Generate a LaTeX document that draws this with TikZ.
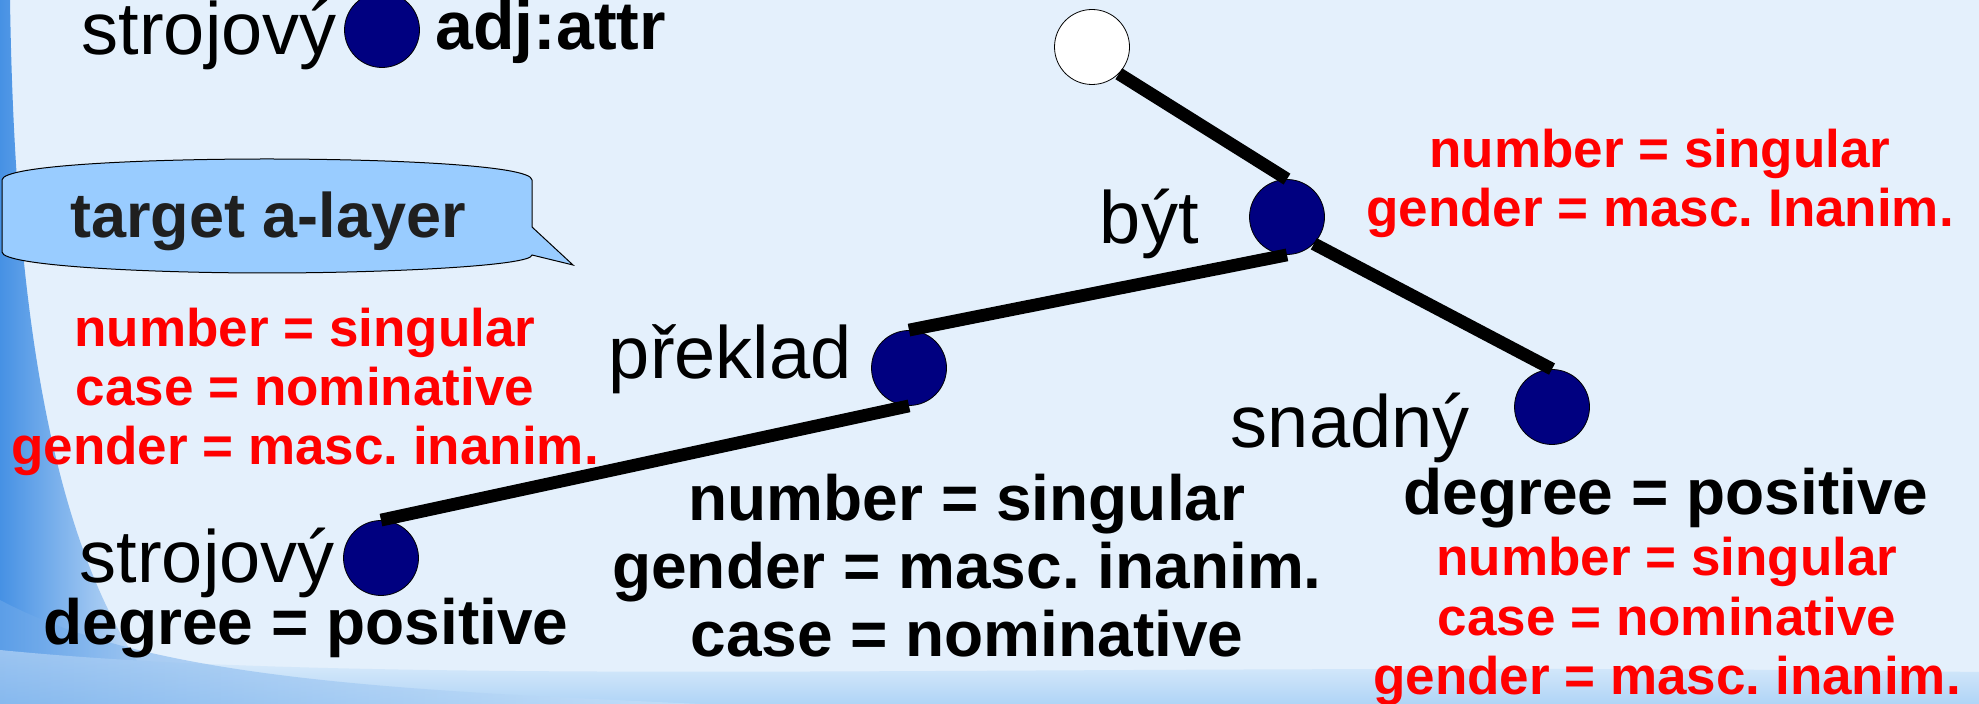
\documentclass[tikz,border=0pt]{standalone}
\usepackage{fontspec}
\setmainfont{Liberation Sans}
\usetikzlibrary{positioning}
\definecolor{bgblue}{RGB}{228,240,252}
\definecolor{edgeblue}{RGB}{70,145,228}
\definecolor{swoosh}{RGB}{175,212,246}
\definecolor{navydot}{RGB}{0,0,128}
\definecolor{calloutfill}{RGB}{153,204,255}
\frenchspacing

\begin{document}
\begin{tikzpicture}[x=0.5pt, y=-0.5pt,
    tnode/.style={circle, draw=black, line width=0.4pt, fill=navydot, minimum size=37.5pt, inner sep=0pt},
    rootnode/.style={tnode, fill=white},
    word/.style={font=\fontsize{37}{40}\selectfont, inner sep=0pt, anchor=base east},
    attr/.style={font=\bfseries\fontsize{32}{34}\selectfont, align=center, inner sep=0pt, anchor=base},
    attrred/.style={font=\bfseries\fontsize{26.5}{29.5}\selectfont, text=red, align=center, inner sep=0pt, anchor=base},
    edge/.style={line width=6.4pt}
  ]
    % background
    \fill[bgblue] (0,0) rectangle (1979,704);
    \useasboundingbox (0,0) rectangle (1979,704);
    \shade[left color=edgeblue, right color=bgblue] (0,0) -- (10,0) .. controls (14,260) and (40,560) .. (170,704) -- (0,704) -- cycle;
    \shade[top color=bgblue, bottom color=swoosh] (0,650) .. controls (400,690) and (1100,660) .. (1979,672) -- (1979,704) -- (0,704) -- cycle;
    \shade[left color=edgeblue!80, right color=swoosh!40!bgblue, opacity=0.6] (0,600) .. controls (150,680) and (400,690) .. (700,704) -- (0,704) -- cycle;

    % callout
    \draw[fill=calloutfill, line width=0.5pt] (2,180) .. controls (2,165) and (150,159) .. (267,159)
      .. controls (384,159) and (532,165) .. (532,180) -- (532,227) -- (573,265) -- (532,255)
      .. controls (532,266) and (384,273) .. (267,273) .. controls (150,273) and (2,266) .. (2,252) -- cycle;
    \node[font=\bfseries\fontsize{31.5}{34}\selectfont, text=black!88, inner sep=0pt, anchor=base] (layer) at (268,238) {target a-layer};

    % legend
    \node[tnode] (adj) at (382,30) {};
    \node[word] (adjword) at (337,55) {strojový};
    \node[font=\bfseries\fontsize{34}{36}\selectfont, inner sep=0pt, anchor=base west] (adjfun) at (435,50) {adj:attr};

    % tree
    \node[rootnode] (root) at (1092,47) {};
    \node[tnode] (byt) at (1287,217) {};
    \node[tnode] (preklad) at (909,368) {};
    \node[tnode] (snadny) at (1552,407) {};
    \node[tnode] (strojovy) at (381,558) {};

    \draw[edge] (root.south east) -- (byt.north);
    \draw[edge] (byt.south) -- (preklad.north);
    \draw[edge] (byt.south east) -- (snadny.north);
    \draw[edge] (preklad.south) -- (strojovy.north);

    \node[word] (bytword) at (1199,244) {být};
    \node[word] (prekladword) at (852,379) {překlad};
    \node[word] (snadnyword) at (1470,448) {snadný};
    \node[word] (strojovyword) at (335,582) {strojový};

    % attributes (base = last line)
    \node[attrred] (bytattr) at (1660,227) {number = singular\\gender = masc. Inanim.};
    \node[attrred] (targetattr) at (305,465) {number = singular\\case = nominative\\gender = masc. inanim.};
    \node[attr] (prekladattr) at (967,656) {number = singular\\gender = masc. inanim.\\case = nominative};
    \node[attr] (snadnyattr) at (1666,515) {degree = positive};
    \node[attrred] (snadnyred) at (1667,694) {number = singular\\case = nominative\\gender = masc. inanim.};
    \node[attr] (strojovyattr) at (306,644) {degree = positive};
  \end{tikzpicture}
\end{document}
